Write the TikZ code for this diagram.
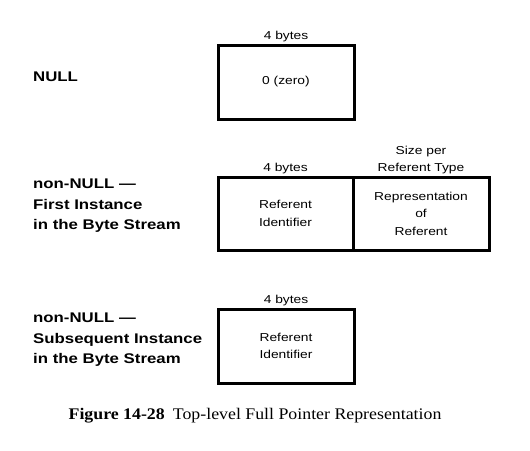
\documentclass[tikz,border=0pt]{standalone}
\usepackage{fontspec}
\setmainfont[FakeStretch=1.1]{Liberation Serif}
\newfontfamily\helv[FakeStretch=1.2]{Liberation Sans}
\usetikzlibrary{positioning}
\tikzset{
  field/.style={draw,line width=3pt,minimum height=74pt,inner sep=0pt,align=center,
    font=\helv\fontsize{11.5}{17.5}\selectfont},
  size/.style={inner sep=0pt,align=center,font=\helv\fontsize{11.5}{17.5}\selectfont},
  kind/.style={anchor=west,inner sep=0pt,align=left,font=\helv\bfseries\fontsize{14}{20.5}\selectfont}
}
\begin{document}
\begin{tikzpicture}[x=1pt,y=-1pt]
    \useasboundingbox (0,0) rectangle (530,450);
    % NULL
    \node[kind] (null) at (33,77) {NULL};
    \node[field,minimum width=136pt] (zero) at (286,82) {0 (zero)};
    \node[size,above=1pt of zero] (zerosize) {4 bytes};
    % first instance
    \node[kind] (first) at (33,206) {non-NULL —\\First Instance\\in the Byte Stream};
    \node[field,minimum width=135pt,minimum height=73pt] (refid) at (285.5,213.5) {Referent\\Identifier};
    \node[field,minimum width=136pt,minimum height=73pt] (repr) at (421,213.5) {Representation\\of\\Referent};
    \node[size,above=1pt of refid] (refidsize) {4 bytes};
    \node[size,above=1pt of repr] (reprsize) {Size per\\Referent Type};
    % subsequent instance
    \node[kind] (subseq) at (33,340) {non-NULL —\\Subsequent Instance\\in the Byte Stream};
    \node[field,minimum width=136pt] (refid2) at (286,346) {Referent\\Identifier};
    \node[size,above=1pt of refid2] (refid2size) {4 bytes};
    % caption
    \node[inner sep=0pt,font=\fontsize{16.2}{19}\selectfont] (caption) at (255,416)
      {\textbf{Figure 14-28}\enspace Top-level Full Pointer Representation};
\end{tikzpicture}
\end{document}
